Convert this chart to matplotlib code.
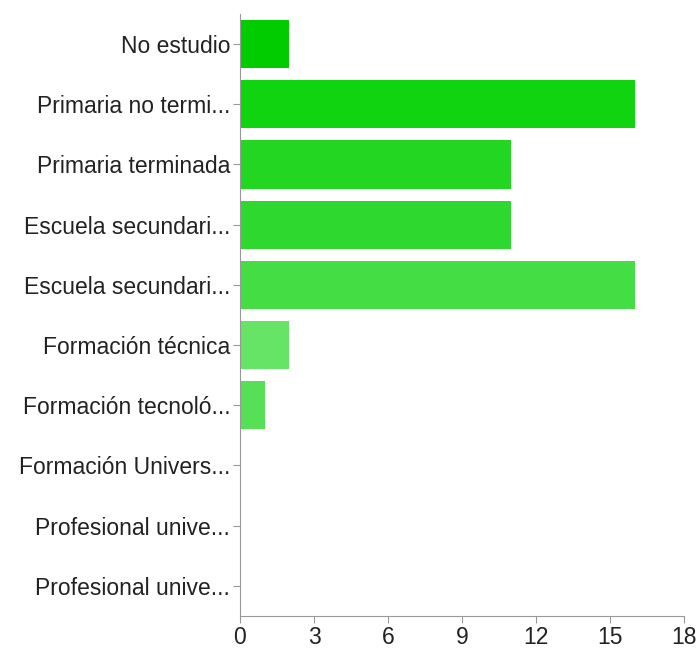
import matplotlib.pyplot as plt

categories = ['No estudio', 'Primaria no termi...', 'Primaria terminada',
              'Escuela secundari...', 'Escuela secundari...', 'Formación técnica',
              'Formación tecnoló...', 'Formación Univers...', 'Profesional unive...',
              'Profesional unive...']
counts = [2, 16, 11, 11, 16, 2, 1, 0, 0, 0]
bar_colors = ['#00cc00', '#11d411', '#22d622', '#2fd82f', '#44dd44',
              '#66e466', '#55e055', '#77e877', '#88ec88', '#99ef99']
x_ticks = [0, 3, 6, 9, 12, 15, 18]

plt.rcParams['font.family'] = ['Liberation Sans', 'DejaVu Sans']

fig = plt.figure(figsize=(6.99, 6.5), dpi=100)
ax = fig.add_axes([240 / 699, 1 - 616 / 650, 444 / 699, 602 / 650])

y_pos = list(range(len(categories)))
ax.barh(y_pos, counts, height=0.8, color=bar_colors)

ax.set_xlim(0, 18)
ax.set_ylim(len(categories) - 0.5, -0.5)
ax.set_xticks(x_ticks)
ax.set_yticks(y_pos)
ax.set_yticklabels(categories, fontsize=16.5, color='#222222')
ax.tick_params(axis='x', labelsize=16.5, colors='#999999', labelcolor='#222222',
               length=5, pad=2)
ax.tick_params(axis='y', colors='#999999', labelcolor='#222222', length=5, pad=2)

for side in ['top', 'right']:
    ax.spines[side].set_visible(False)
for side in ['left', 'bottom']:
    ax.spines[side].set_color('#999999')

plt.savefig('out.png', dpi=100)
